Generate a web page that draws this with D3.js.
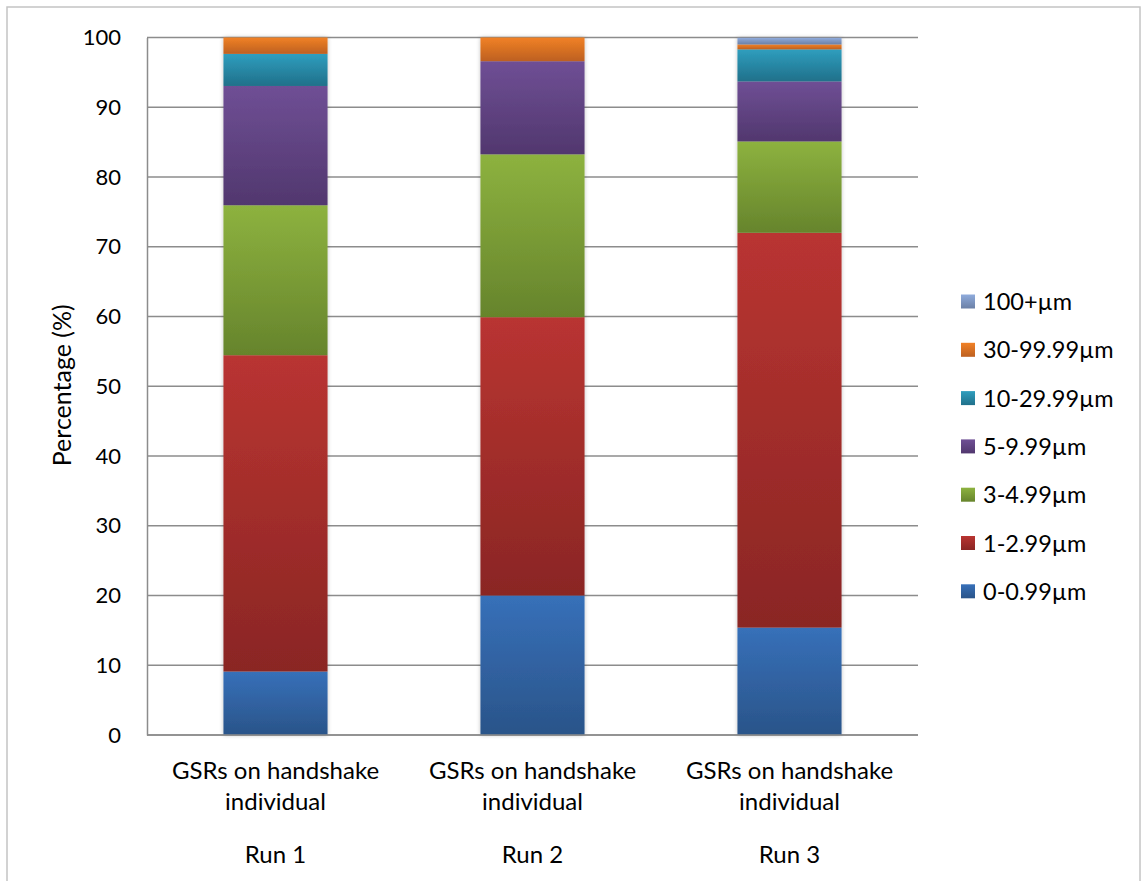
<!DOCTYPE html>
<html>
<head>
<meta charset="utf-8">
<script src="https://cdn.jsdelivr.net/npm/d3@7"></script>
<style>
  html, body { margin: 0; padding: 0; background: #fff; }
  svg { display: block; }
  text { font-family: Lato, "Open Sans", "Liberation Sans", sans-serif; fill: #000; }
</style>
</head>
<body>
<svg id="chart" width="1141" height="881"></svg>
<script>
// ---- data ----
const categories = ["Run 1", "Run 2", "Run 3"];
const categoryLine1 = "GSRs on handshake";
const categoryLine2 = "individual";
const seriesNames = ["0-0.99µm", "1-2.99µm", "3-4.99µm", "5-9.99µm", "10-29.99µm", "30-99.99µm", "100+µm"];
const s0_099   = [9.1, 20.0, 15.4];
const s1_299   = [45.35, 39.9, 56.6];
const s3_499   = [21.5, 23.35, 13.1];
const s5_999   = [17.1, 13.35, 8.6];
const s10_2999 = [4.6, 0, 4.6];
const s30_9999 = [2.35, 3.4, 0.7];
const s100plus = [0, 0, 0.95];
const yTicks = [0, 10, 20, 30, 40, 50, 60, 70, 80, 90, 100];
const seriesValues = [s0_099, s1_299, s3_499, s5_999, s10_2999, s30_9999, s100plus];
const seriesTop = ["#3770b9", "#b93431", "#8db23f", "#6f4f95", "#2f9ebe", "#f18126", "#8fabdc"];
const seriesBot = ["#2a5489", "#8a2624", "#66842c", "#51376e", "#20708a", "#bd6020", "#6b80a6"];

// ---- layout ----
const svg = d3.select("#chart");
const plot = { left: 147, right: 918, top: 37.5, bottom: 735 };

// outer border
svg.append("rect").attr("x", 7).attr("y", 7).attr("width", 1133).attr("height", 900)
  .attr("fill", "#fff").attr("stroke", "#c4c4c4").attr("stroke-width", 1.5);

const x = d3.scaleBand().domain(categories).range([plot.left, plot.right]).paddingInner(0.595).paddingOuter(0.2975);
const y = d3.scaleLinear().domain([0, 100]).range([plot.bottom, plot.top]);

const defs = svg.append("defs");
seriesNames.forEach((n, i) => {
  const g = defs.append("linearGradient").attr("id", "g" + i).attr("x1", 0).attr("y1", 0).attr("x2", 0).attr("y2", 1);
  g.append("stop").attr("offset", "0%").attr("stop-color", seriesTop[i]);
  g.append("stop").attr("offset", "100%").attr("stop-color", seriesBot[i]);
});
const flt = defs.append("filter").attr("id", "shadow").attr("x", "-10%").attr("y", "-5%").attr("width", "120%").attr("height", "110%");
flt.append("feGaussianBlur").attr("in", "SourceAlpha").attr("stdDeviation", 2).attr("result", "b");
flt.append("feComponentTransfer").attr("in", "b").attr("result", "b2")
  .append("feFuncA").attr("type", "linear").attr("slope", 0.25);
const fm = flt.append("feMerge");
fm.append("feMergeNode").attr("in", "b2");
fm.append("feMergeNode").attr("in", "SourceGraphic");

// gridlines
svg.append("g").selectAll("line").data(yTicks).join("line")
  .attr("x1", plot.left).attr("x2", plot.right)
  .attr("y1", d => y(d)).attr("y2", d => y(d))
  .attr("stroke", "#8c8c8c").attr("stroke-width", 1.5);

// y axis
const yAxis = svg.append("g").attr("transform", `translate(${plot.left},0)`)
  .call(d3.axisLeft(y).tickValues(yTicks).tickSize(0).tickPadding(26));
yAxis.select(".domain").attr("stroke", "#8c8c8c").attr("stroke-width", 1.5);
yAxis.selectAll("text").style("font-size", "22px").style("font-family", "Lato, sans-serif").attr("fill", "#000");

// stacked data
const table = categories.map((c, j) => {
  const o = { cat: c };
  seriesNames.forEach((n, i) => { o[n] = seriesValues[i][j]; });
  return o;
});
const stacked = d3.stack().keys(seriesNames)(table);

const bars = svg.append("g");
stacked.forEach((layer, i) => {
  bars.append("g").attr("fill", `url(#g${i})`)
    .selectAll("rect").data(layer.filter(d => d[1] - d[0] > 0)).join("rect")
    .attr("x", d => x(d.data.cat))
    .attr("width", x.bandwidth())
    .attr("y", d => y(d[1]))
    .attr("height", d => y(d[0]) - y(d[1]));
});
bars.attr("filter", "url(#shadow)");

// x axis baseline
svg.append("line").attr("x1", plot.left).attr("x2", plot.right).attr("y1", plot.bottom).attr("y2", plot.bottom)
  .attr("stroke", "#8c8c8c").attr("stroke-width", 1.5);

// category labels (two-level)
const xl = svg.append("g").selectAll("g").data(categories).join("g")
  .attr("transform", d => `translate(${x(d) + x.bandwidth() / 2},0)`);
xl.append("text").attr("y", 779).attr("text-anchor", "middle").style("font-size", "24px").text(categoryLine1);
xl.append("text").attr("y", 810).attr("text-anchor", "middle").style("font-size", "24px").text(categoryLine2);
xl.append("text").attr("y", 863).attr("text-anchor", "middle").style("font-size", "24px").text(d => d);

// y title
svg.append("text").attr("transform", `translate(71,${(plot.top + plot.bottom) / 2 - 1}) rotate(-90)`)
  .attr("text-anchor", "middle").style("font-size", "25px").text("Percentage (%)");

// legend (reverse order)
const legendOrder = seriesNames.map((n, i) => i).reverse();
const lg = svg.append("g").selectAll("g").data(legendOrder).join("g")
  .attr("transform", (d, k) => `translate(961,${301.5 + k * 48.3})`);
lg.append("rect").attr("x", 0).attr("y", -7).attr("width", 14).attr("height", 14)
  .attr("fill", d => `url(#g${d})`);
lg.append("text").attr("x", 22).attr("y", 8.5).style("font-size", "23.5px").text(d => seriesNames[d]);
</script>
</body>
</html>
